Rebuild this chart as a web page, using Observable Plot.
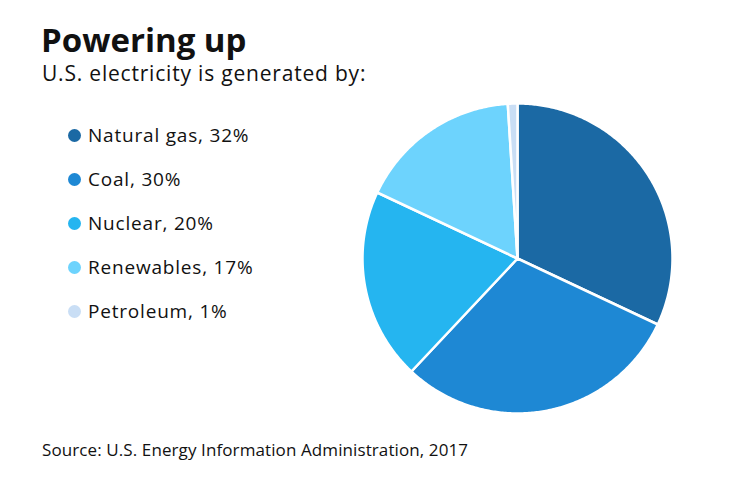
<!DOCTYPE html>
<html>
<head>
<meta charset="utf-8">
<script src="https://cdn.jsdelivr.net/npm/d3@7"></script>
<script src="https://cdn.jsdelivr.net/npm/@observablehq/plot@0.6"></script>
<style>
  html, body { margin: 0; padding: 0; background: #fff; }
  body { width: 740px; height: 482px; position: relative; overflow: hidden; font-family: "Open Sans", Lato, sans-serif; color: #111; }
  #title { position: absolute; left: 41px; top: 19px; font-size: 33px; font-weight: 700; line-height: 42px; }
  #subtitle { position: absolute; left: 42px; top: 59px; font-size: 21px; letter-spacing: 0.8px; line-height: 28px; }
  #legend { position: absolute; left: 68px; top: 113px; }
  .item { display: flex; align-items: center; height: 44px; font-size: 19px; letter-spacing: 0.8px; }
  .sw { width: 13px; height: 13px; border-radius: 50%; margin-right: 7px; flex: none; }
  #source { position: absolute; left: 42px; top: 438px; font-size: 17px; letter-spacing: 0.1px; line-height: 24px; }
  #pie { position: absolute; left: 357px; top: 98px; }
</style>
</head>
<body>
<div id="title">Powering up</div>
<div id="subtitle">U.S. electricity is generated by:</div>
<div id="legend"></div>
<div id="pie"></div>
<div id="source">Source: U.S. Energy Information Administration, 2017</div>
<script>
const categories = ["Natural gas", "Coal", "Nuclear", "Renewables", "Petroleum"];
const shares = [32, 30, 20, 17, 1];
const colors = ["#1b69a4", "#1e88d4", "#25b5f0", "#6dd3fd", "#c9def5"];

// legend
const legend = document.getElementById("legend");
categories.forEach((c, i) => {
  const row = document.createElement("div");
  row.className = "item";
  row.innerHTML = `<span class="sw" style="background:${colors[i]}"></span><span>${c}, ${shares[i]}%</span>`;
  legend.appendChild(row);
});

// pie slice outlines from d3.pie angles (clockwise from 12 o'clock)
const arcs = d3.pie().sort(null).value(d => d.share)(categories.map((name, i) => ({name, share: shares[i]})));
const pts = [];
arcs.forEach(a => {
  const name = a.data.name;
  pts.push({name, x: 0, y: 0});
  const n = Math.max(2, Math.ceil((a.endAngle - a.startAngle) / 0.01));
  for (let k = 0; k <= n; k++) {
    const t = a.startAngle + (a.endAngle - a.startAngle) * k / n;
    pts.push({name, x: Math.sin(t), y: Math.cos(t)});
  }
});

const chart = Plot.plot({
  width: 320,
  height: 320,
  margin: 5,
  x: {domain: [-1, 1], axis: null},
  y: {domain: [-1, 1], axis: null},
  color: {domain: categories, range: colors},
  marks: [
    Plot.line(pts, {x: "x", y: "y", z: "name", fill: "name", stroke: "white", strokeWidth: 2.5, strokeLinejoin: "round", curve: "linear-closed"})
  ]
});
document.getElementById("pie").appendChild(chart);
</script>
</body>
</html>
